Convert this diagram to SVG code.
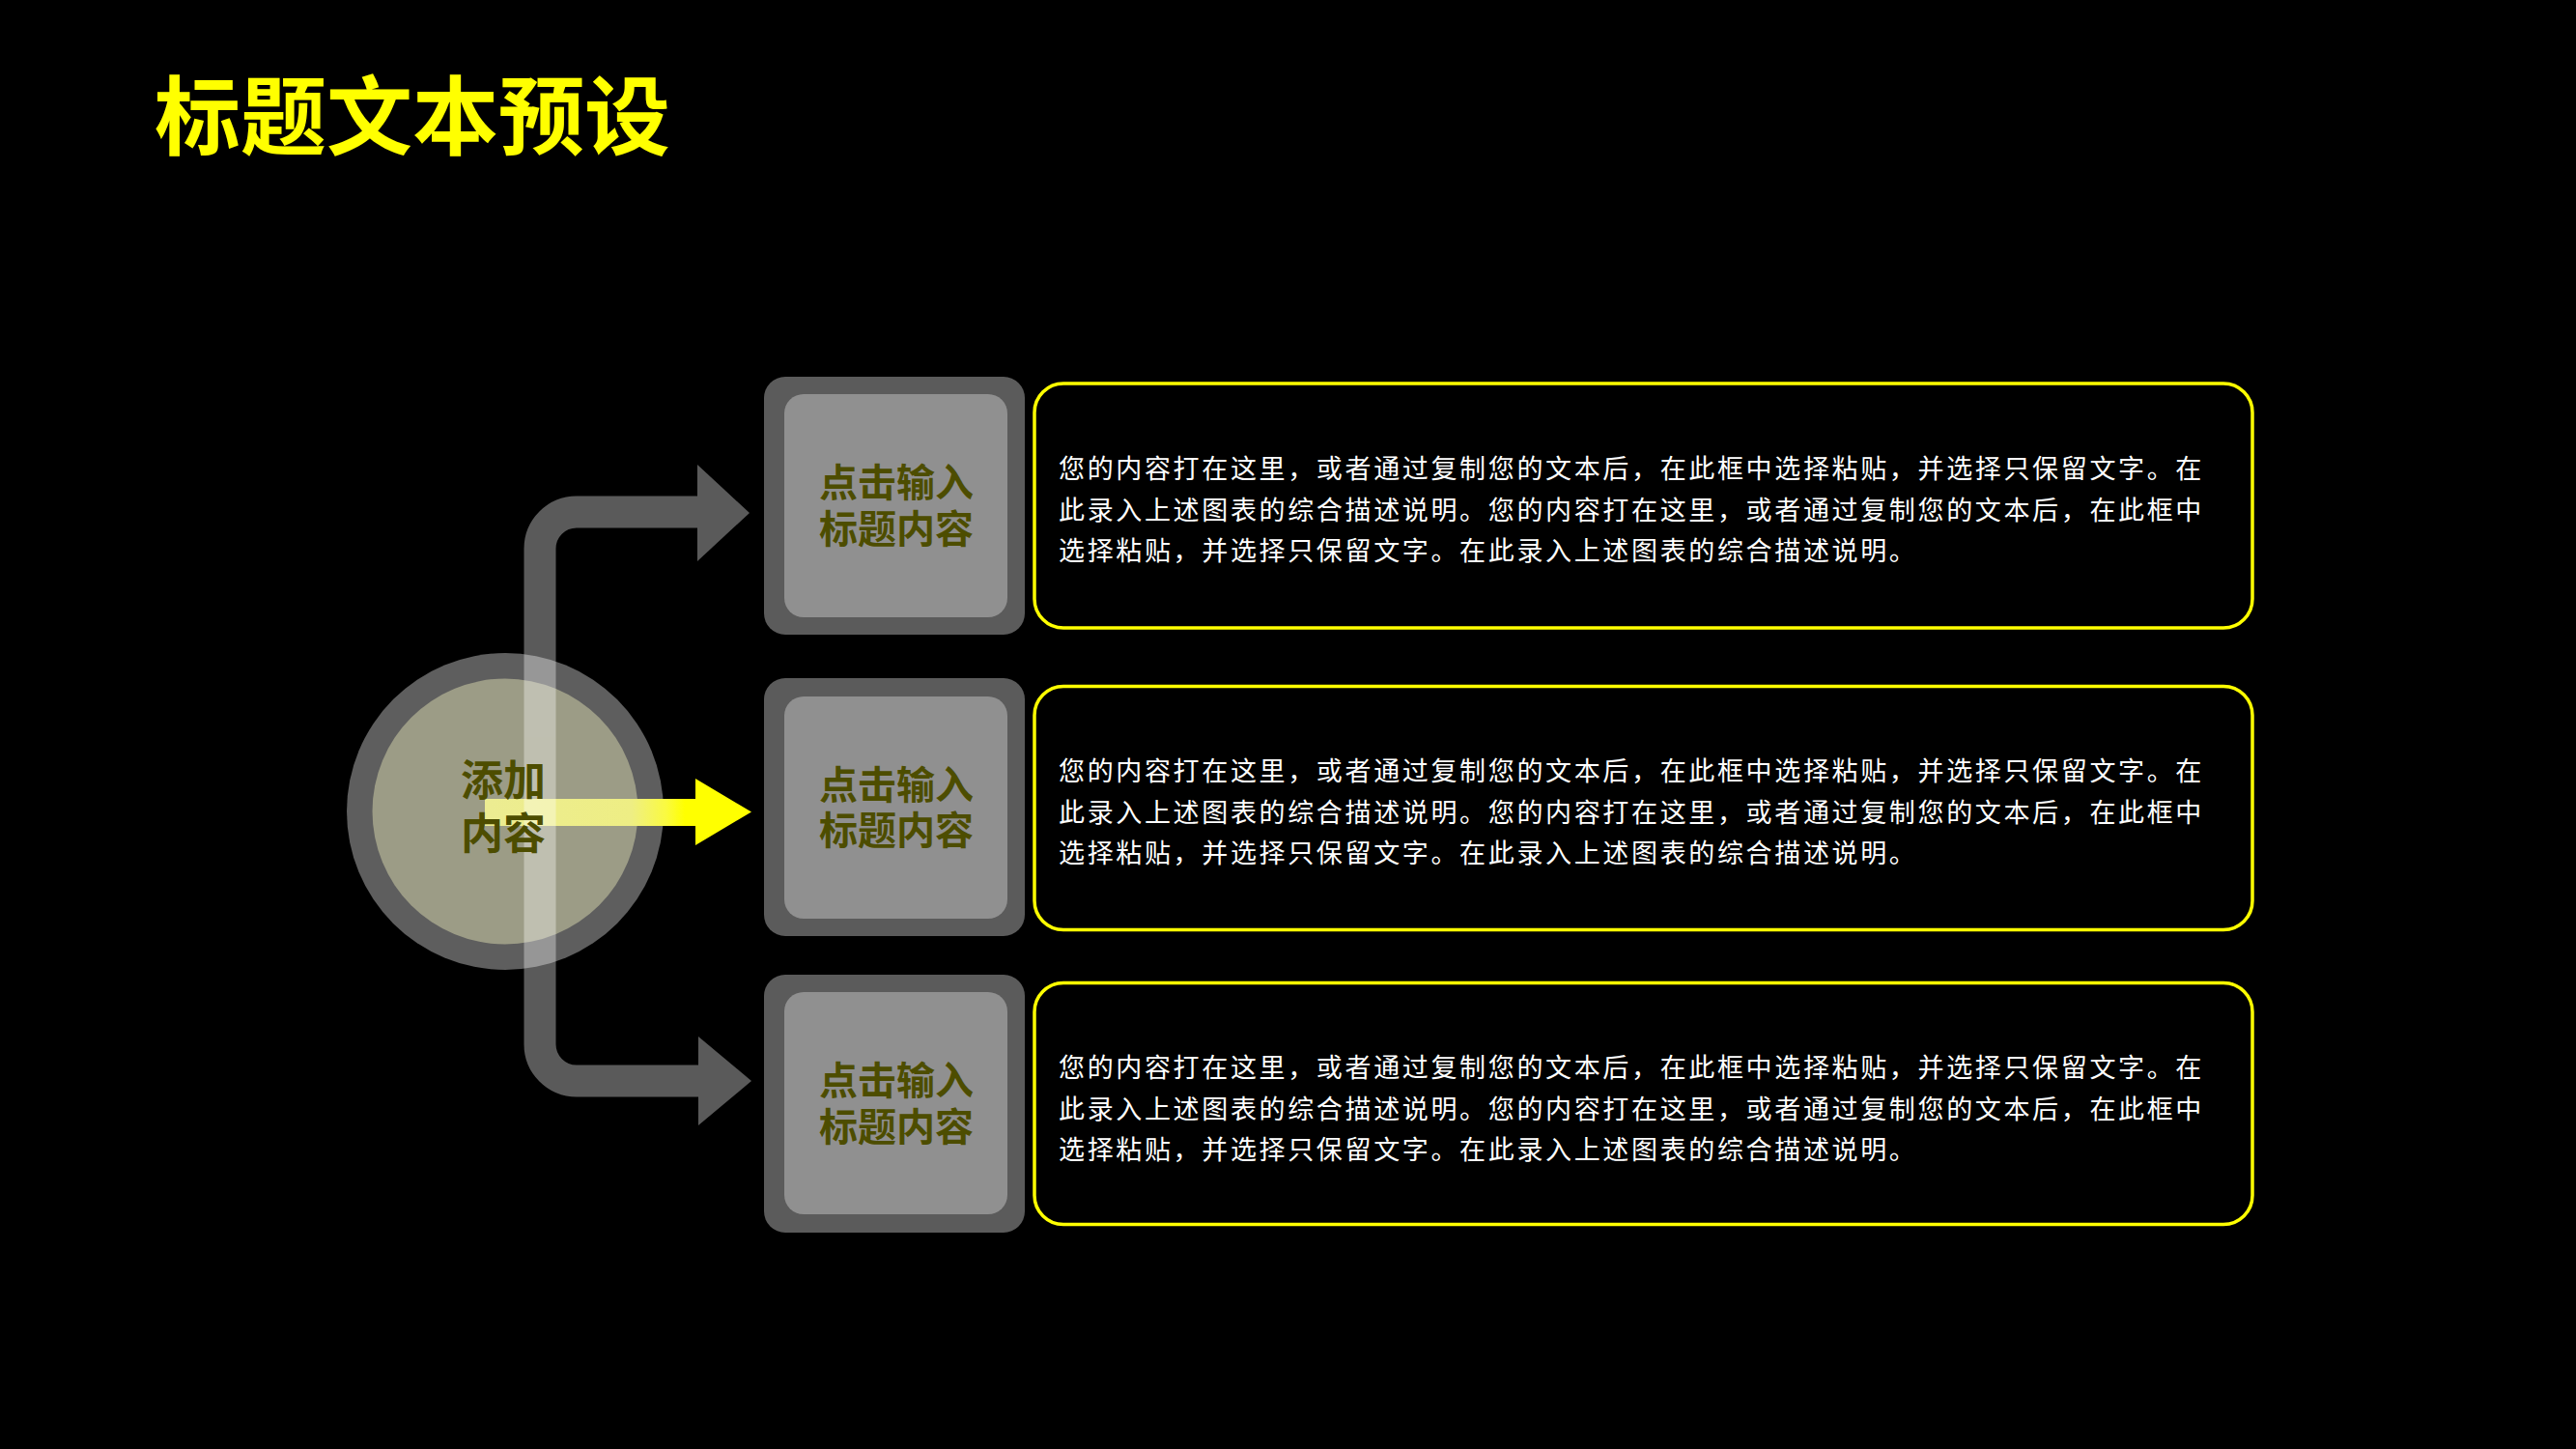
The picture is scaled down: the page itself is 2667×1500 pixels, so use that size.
<svg xmlns="http://www.w3.org/2000/svg" width="2667" height="1500" viewBox="0 0 2667 1500">
<defs>
<style>
.cjk{font-family:"Noto Sans CJK SC","Noto Sans",sans-serif}
.title{font-size:89px;font-weight:bold;fill:#FFFF00}
.hub{font-size:44px;font-weight:bold;fill:#4D4D00;text-anchor:middle}
.lbl{font-size:40px;font-weight:bold;fill:#4D4D00;text-anchor:middle}
.body{font-size:27px;fill:#FFFFFF;letter-spacing:2.65px}
.outer{fill:#5B5B5B}
.inner{fill:#909090}
.desc{fill:none;stroke:#FFFF00;stroke-width:3.5}
</style>
<linearGradient id="yg" gradientUnits="userSpaceOnUse" x1="502" y1="0" x2="778" y2="0">
<stop offset="0" stop-color="#ECEC92"/>
<stop offset="0.55" stop-color="#EEEE84"/>
<stop offset="0.68" stop-color="#FAFA40"/>
<stop offset="0.75" stop-color="#FFFF00"/>
<stop offset="1" stop-color="#FFFF00"/>
</linearGradient>
</defs>
<rect x="0" y="0" width="2667" height="1500" fill="#000000"/>

<text class="cjk title" x="160" y="153">标题文本预设</text>

<g id="hub">
<circle cx="523" cy="840" r="164" fill="#5E5E5E"/>
<circle cx="523" cy="840" r="137.5" fill="#9C9C86"/>
</g>

<g id="connectors">
<path d="M502 827 H720 V806 L778 840.5 L720 875 V855 H502 Z" fill="url(#yg)"/>
<g opacity="0.353">
<path d="M724 530 H597 A38 38 0 0 0 559 568 V1081 A38 38 0 0 0 597 1119 H724" fill="none" stroke="#FFFFFF" stroke-width="33"/>
<polygon points="722,481 776,531 722,581" fill="#FFFFFF"/>
<polygon points="723,1073 778,1119 723,1165" fill="#FFFFFF"/>
</g>
</g>

<g id="hub-label">
<text class="cjk hub"><tspan x="521" y="824">添加</tspan><tspan x="521" y="879">内容</tspan></text>
</g>

<g id="title-1">
<rect class="outer" x="791" y="390" width="270" height="267" rx="22"/>
<rect class="inner" x="812" y="408" width="231" height="231" rx="20"/>
<text class="cjk lbl"><tspan x="928" y="514">点击输入</tspan><tspan x="928" y="562">标题内容</tspan></text>
</g>
<g id="title-2">
<rect class="outer" x="791" y="702" width="270" height="267" rx="22"/>
<rect class="inner" x="812" y="721" width="231" height="230" rx="20"/>
<text class="cjk lbl"><tspan x="928" y="827">点击输入</tspan><tspan x="928" y="874">标题内容</tspan></text>
</g>
<g id="title-3">
<rect class="outer" x="791" y="1009" width="270" height="267" rx="22"/>
<rect class="inner" x="812" y="1027" width="231" height="230" rx="20"/>
<text class="cjk lbl"><tspan x="928" y="1133">点击输入</tspan><tspan x="928" y="1181">标题内容</tspan></text>
</g>

<g id="desc-1">
<rect class="desc" x="1071" y="397" width="1261" height="253" rx="30"/>
<text class="cjk body" x="1096" y="495">您的内容打在这里，或者通过复制您的文本后，在此框中选择粘贴，并选择只保留文字。在</text>
<text class="cjk body" x="1096" y="537.5">此录入上述图表的综合描述说明。您的内容打在这里，或者通过复制您的文本后，在此框中</text>
<text class="cjk body" x="1096" y="580">选择粘贴，并选择只保留文字。在此录入上述图表的综合描述说明。</text>
</g>
<g id="desc-2">
<rect class="desc" x="1071" y="710.5" width="1261" height="252" rx="30"/>
<text class="cjk body" x="1096" y="808">您的内容打在这里，或者通过复制您的文本后，在此框中选择粘贴，并选择只保留文字。在</text>
<text class="cjk body" x="1096" y="850.5">此录入上述图表的综合描述说明。您的内容打在这里，或者通过复制您的文本后，在此框中</text>
<text class="cjk body" x="1096" y="893">选择粘贴，并选择只保留文字。在此录入上述图表的综合描述说明。</text>
</g>
<g id="desc-3">
<rect class="desc" x="1071" y="1017.5" width="1261" height="250" rx="30"/>
<text class="cjk body" x="1096" y="1115">您的内容打在这里，或者通过复制您的文本后，在此框中选择粘贴，并选择只保留文字。在</text>
<text class="cjk body" x="1096" y="1157.5">此录入上述图表的综合描述说明。您的内容打在这里，或者通过复制您的文本后，在此框中</text>
<text class="cjk body" x="1096" y="1200">选择粘贴，并选择只保留文字。在此录入上述图表的综合描述说明。</text>
</g>
</svg>
